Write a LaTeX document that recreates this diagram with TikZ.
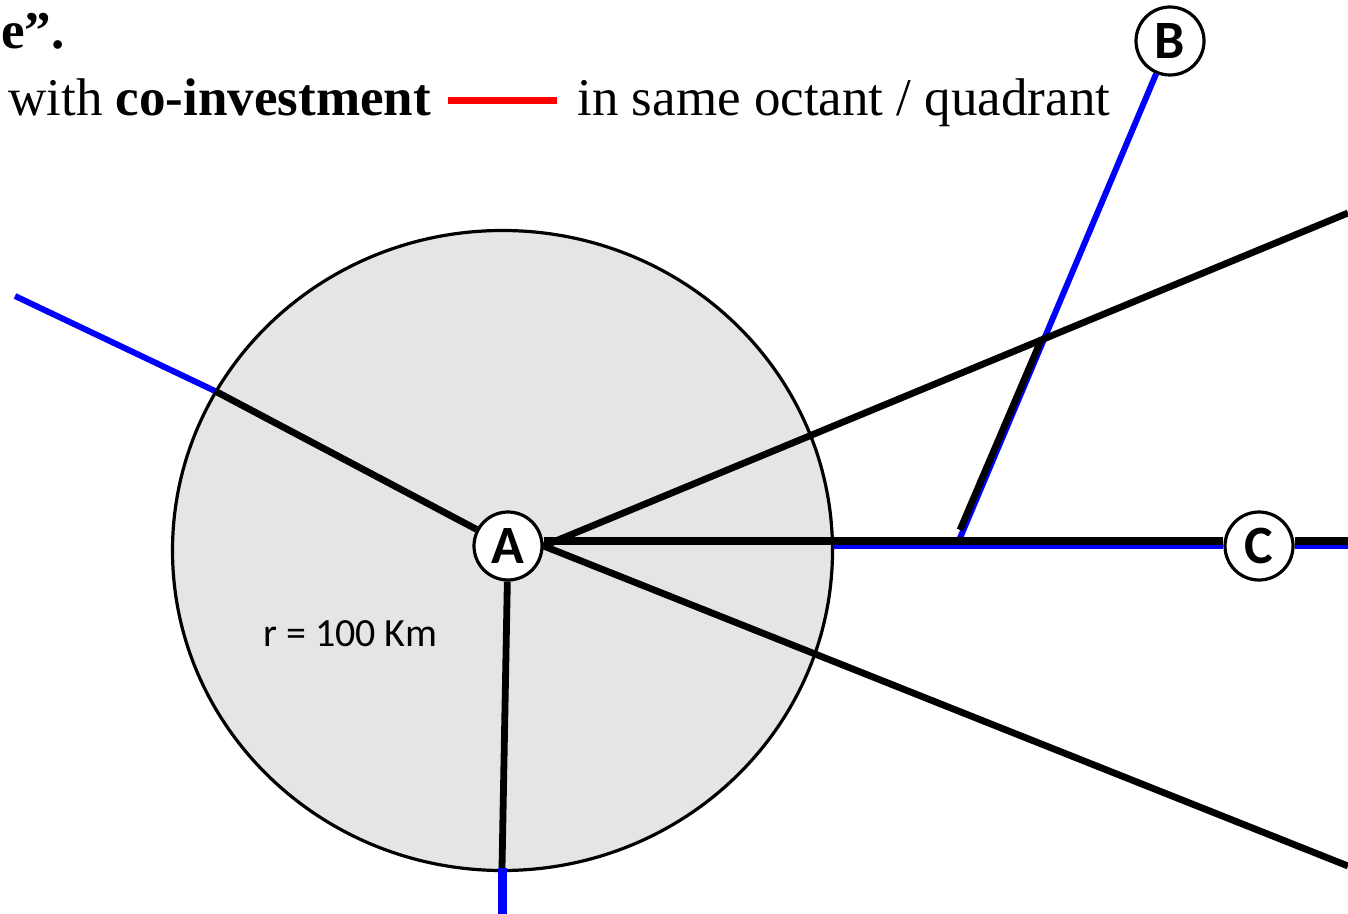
\documentclass[tikz,border=0pt]{standalone}
\usepackage{fontspec}
\setmainfont{Liberation Serif}
\newfontfamily\labelfont{Carlito}
\usepackage{tikz}
\usetikzlibrary{positioning}
\definecolor{diskgray}{RGB}{229,229,229}
\definecolor{linkblue}{RGB}{0,0,255}
\definecolor{legendred}{RGB}{255,0,0}

\begin{document}
\begin{tikzpicture}[
			x=0.5pt, y=-0.5pt,
			city/.style={circle, draw=black, fill=white, line width=1.6pt, minimum size=34pt, inner sep=0pt, font=\labelfont\fontsize{27}{27}\selectfont\bfseries},
			road/.style={draw=black, line width=3.4pt},
			link/.style={draw=linkblue, line width=3pt},
			txt/.style={inner sep=0pt, font=\fontsize{26.5}{30}\selectfont}
			]
			\useasboundingbox (0,0) rectangle (1348,914);
			
			% Legend
			\node[txt, anchor=base west] (tail) at (1,49) {\textbf{e''.}};
			\node[txt, anchor=base west] (lgd) at (8,116) {with \textbf{co-investment}};
			\node[txt, anchor=base west] (oct) at (577,116) {in same octant / quadrant};
			\coordinate (rl) at (448,101);
			\coordinate (rr) at (557,101);
			\draw[draw=legendred, line width=3.5pt] (rl) -- (rr);
			
			% Radius
			\draw[fill=diskgray, line width=1.6pt] (502.5,550.5) ellipse [x radius=165pt, y radius=160pt];
			\node[font=\labelfont\fontsize{20}{20}\selectfont] (rad) at (350,634) {r = 100 Km};
			
			% Cities
			\node[city] (A) at (508,546) {A};
			\node[city] (B) at (1170,41) {B};
			\node[city] (C) at (1259,546) {C};
			
			% Ends
			\coordinate (ul) at (15,296);
			\coordinate (ulrim) at (215,391);
			\coordinate (bt) at (502,914);
			\coordinate (btrim) at (502,868);
			\coordinate (ur) at (1348,213);
			\coordinate (lr) at (1348,866);
			\coordinate (erim) at (833,546);
			\coordinate (eend) at (1348,546);
			\coordinate (eendk) at (1348,541);
			\coordinate (bx) at (1042,338);
			\coordinate (bk) at (960,530);
			\coordinate (bend) at (960,538);
			
			% Blue links
			\draw[link] (ul) -- (ulrim);
			\draw[link, line width=4.5pt] (btrim) -- (bt);
			\draw[link] (erim) -- (C);
			\draw[link] (C) -- (eend);
			\draw[link] (B) -- (bend);
			
			% Black roads
			\draw[road] (ulrim) -- (A);
			\draw[road] (A) -- (btrim);
			\draw[road] (A.east) -- (ur);
			\draw[road] (A.east) -- (lr);
			\draw[road, line width=4pt] ([yshift=2.5pt]A.east) -- ([yshift=2.5pt]C.west);
			\draw[road, line width=4pt] ([yshift=2.5pt]C.east) -- (eendk);
			\draw[road] (bx) -- (bk);
		\end{tikzpicture}
\end{document}
